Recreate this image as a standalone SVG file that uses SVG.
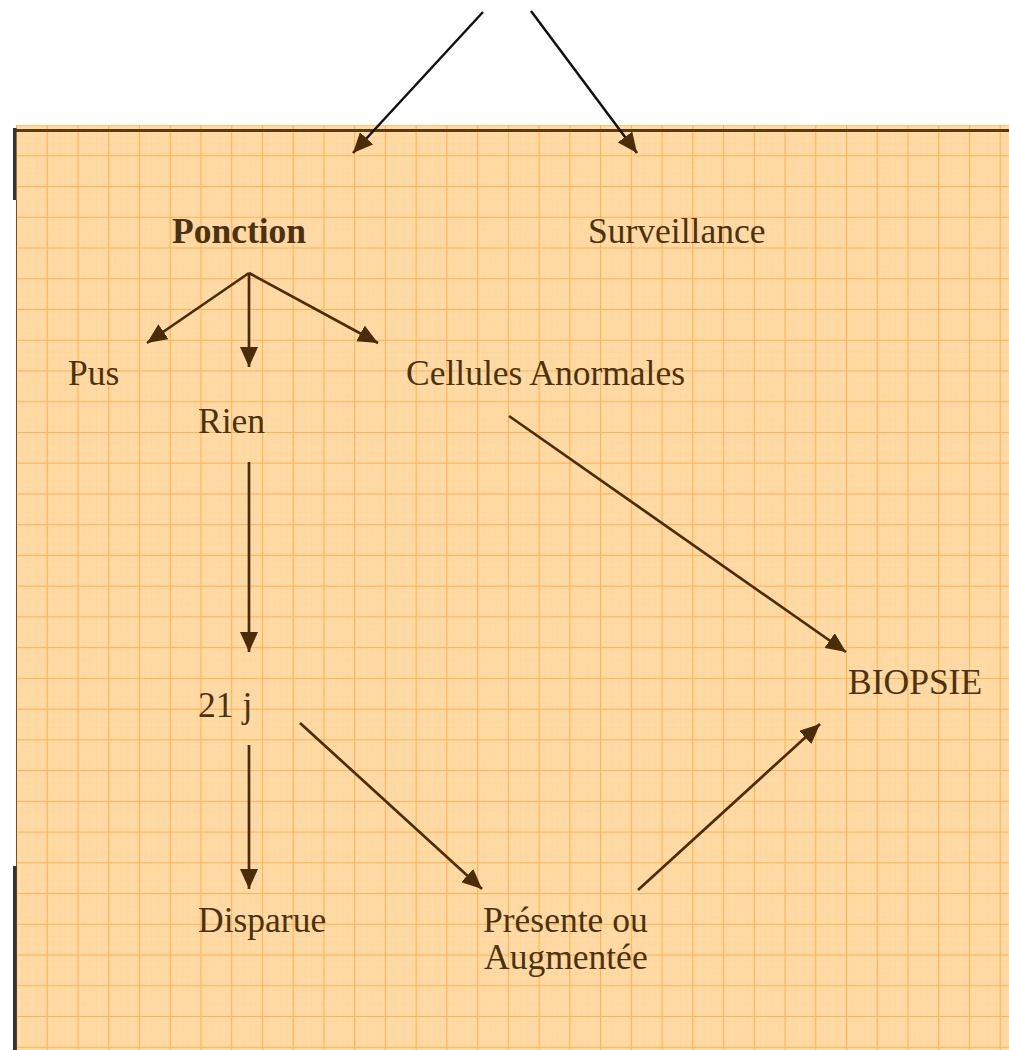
<svg xmlns="http://www.w3.org/2000/svg" width="1009" height="1050" viewBox="0 0 1009 1050">
<defs>
<pattern id="minor" x="16" y="124.56" width="6.148" height="6.148" patternUnits="userSpaceOnUse">
<path d="M0,0 H6.148 M0,0 V6.148" stroke="#FFC47E" stroke-width="1" stroke-dasharray="1,1" fill="none"/>
</pattern>
<pattern id="major" x="16" y="124.56" width="30.74" height="30.74" patternUnits="userSpaceOnUse">
<path d="M0,0.5 H30.74 M0.5,0 V30.74" stroke="#FFAE45" stroke-width="1.2" fill="none"/>
</pattern>
<marker id="ah" viewBox="0 0 20 18" refX="20" refY="9" markerWidth="20" markerHeight="18" markerUnits="userSpaceOnUse" orient="auto">
<path d="M0,0 L20,9 L0,18 z" fill="#4a2c08"/>
</marker>
</defs>
<style>
text{font-family:"Liberation Serif","Times New Roman",Times,serif;font-size:35.5px;fill:#4a3212}
.b{font-weight:bold}
.c{fill:none;stroke:#4a2c08;stroke-width:2.7}
.k{fill:none;stroke:#111;stroke-width:2.5}
</style>
<rect width="1009" height="1050" fill="#fff"/>
<g id="paper">
<rect x="16" y="125" width="993" height="925" fill="#FFDAA4"/>
<rect x="16" y="125" width="993" height="925" fill="url(#minor)" opacity="0.55"/>
<rect x="16" y="125" width="993" height="925" fill="url(#major)" opacity="0.9"/>
<line x1="16" y1="130.5" x2="1009" y2="130.5" stroke="#5a3a10" stroke-width="3"/>
<line x1="16.5" y1="200" x2="16.5" y2="1050" stroke="#7a5020" stroke-width="1"/>
<rect x="13" y="128" width="3.5" height="72" fill="#333"/>
<rect x="13" y="866" width="3.5" height="184" fill="#333"/>
</g>
<g id="connectors">
<line class="k" x1="483" y1="12" x2="353" y2="153" marker-end="url(#ah)"/>
<line class="k" x1="531" y1="11" x2="637" y2="153" marker-end="url(#ah)"/>
<line class="c" x1="249" y1="273" x2="147" y2="343" marker-end="url(#ah)"/>
<line class="c" x1="249" y1="273" x2="249" y2="367" marker-end="url(#ah)"/>
<line class="c" x1="249" y1="273" x2="378" y2="343" marker-end="url(#ah)"/>
<line class="c" x1="249" y1="462" x2="249" y2="652" marker-end="url(#ah)"/>
<line class="c" x1="249" y1="745" x2="249" y2="889" marker-end="url(#ah)"/>
<line class="c" x1="300" y1="723" x2="482" y2="889" marker-end="url(#ah)"/>
<line class="c" x1="638" y1="890" x2="820" y2="724" marker-end="url(#ah)"/>
<line class="c" x1="509" y1="416" x2="846" y2="652" marker-end="url(#ah)"/>
</g>
<g id="ponction"><text class="b" x="172" y="243">Ponction</text></g>
<g id="surveillance"><text x="588" y="243">Surveillance</text></g>
<g id="pus"><text x="68" y="385">Pus</text></g>
<g id="cellules"><text x="406" y="385">Cellules Anormales</text></g>
<g id="rien"><text x="198" y="433">Rien</text></g>
<g id="j21"><text x="198" y="717">21 j</text></g>
<g id="biopsie"><text x="848" y="694">BIOPSIE</text></g>
<g id="disparue"><text x="198" y="932">Disparue</text></g>
<g id="presente"><text x="483" y="932">Présente ou</text><text x="484" y="969">Augmentée</text></g>
</svg>
